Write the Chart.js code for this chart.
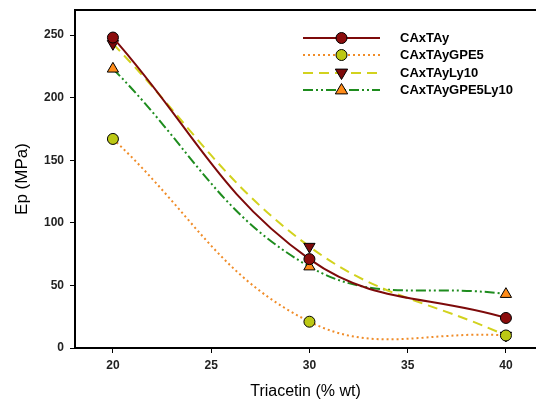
<!DOCTYPE html>
<html>
<head>
<meta charset="utf-8">
<script src="https://cdn.jsdelivr.net/npm/chart.js@4"></script>
<style>
  html, body { margin: 0; padding: 0; background: #fff; }
  #wrap { width: 536px; height: 407px; }
</style>
</head>
<body>
<div id="wrap"><canvas id="chart" width="536" height="407"></canvas></div>
<script>
// triacetin content (% wt)
const triacetin = [20, 30, 40];
const caxtay = [248, 71, 24];
const caxtayGPE5 = [167, 21, 10];
const caxtayLy10 = [243, 81, 10];
const caxtayGPE5Ly10 = [223, 65, 43];

const xTicks = [20, 25, 30, 35, 40];
const yTicks = [0, 50, 100, 150, 200, 250];

function pts(ys) {
    return triacetin.map((x, i) => ({ x: x, y: ys[i] }));
}

const tickFont = { family: 'Liberation Sans, Arial', size: 12, weight: 'bold' };

// legend drawn by hand: line with marker in the middle, like the original
const legendPlugin = {
    id: 'legendLines',
    afterDraw(chart) {
        const ctx = chart.ctx;
        const x0 = 303, x1 = 380, tx = 400;
        const rows = [38, 55, 73, 90];
        chart.data.datasets.forEach((ds, i) => {
            const y = rows[i];
            ctx.save();
            ctx.strokeStyle = ds.borderColor;
            ctx.lineWidth = ds.borderWidth;
            ctx.setLineDash(ds.borderDash || []);
            ctx.beginPath();
            ctx.moveTo(x0, y);
            ctx.lineTo(x1, y);
            ctx.stroke();
            ctx.setLineDash([]);
            drawMarker(ctx, ds, (x0 + x1) / 2, y);
            ctx.fillStyle = '#000';
            ctx.font = 'bold 13px Liberation Sans, Arial';
            ctx.textBaseline = 'middle';
            ctx.fillText(ds.label, tx, y);
            ctx.restore();
        });
    },
    beforeDatasetsDraw(chart) {
        // top frame line
        const ctx = chart.ctx;
        const a = chart.chartArea;
        ctx.save();
        ctx.strokeStyle = '#000';
        ctx.lineWidth = 2;
        ctx.beginPath();
        ctx.moveTo(a.left, a.top);
        ctx.lineTo(a.right, a.top);
        ctx.stroke();
        ctx.restore();
    }
};

function drawMarker(ctx, ds, x, y) {
    const r = ds.pointRadius;
    ctx.fillStyle = ds.pointBackgroundColor;
    ctx.strokeStyle = '#000';
    ctx.lineWidth = 1;
    ctx.beginPath();
    if (ds.pointStyle === 'circle') {
        ctx.arc(x, y, r, 0, Math.PI * 2);
    } else {
        const rot = ds.pointRotation === 180 ? -1 : 1;
        ctx.moveTo(x, y - r * rot);
        ctx.lineTo(x + r * 0.95, y + r * 0.6 * rot);
        ctx.lineTo(x - r * 0.95, y + r * 0.6 * rot);
        ctx.closePath();
    }
    ctx.fill();
    ctx.stroke();
}

const ctx = document.getElementById('chart').getContext('2d');
new Chart(ctx, {
    type: 'line',
    data: {
        datasets: [
            { label: 'CAxTAy', data: pts(caxtay), borderColor: '#7d0a0a', borderWidth: 2,
              pointStyle: 'circle', pointRadius: 5.5, pointBackgroundColor: '#8b0d0d' },
            { label: 'CAxTAyGPE5', data: pts(caxtayGPE5), borderColor: '#f08c28', borderWidth: 2,
              borderDash: [2, 3], pointStyle: 'circle', pointRadius: 5.5, pointBackgroundColor: '#bcc814' },
            { label: 'CAxTAyLy10', data: pts(caxtayLy10), borderColor: '#d2d21e', borderWidth: 2,
              borderDash: [10, 6], pointStyle: 'triangle', pointRotation: 180, pointRadius: 6.5,
              pointBackgroundColor: '#7d0a0a' },
            { label: 'CAxTAyGPE5Ly10', data: pts(caxtayGPE5Ly10), borderColor: '#1e8c1e', borderWidth: 2,
              borderDash: [10, 3, 2, 3, 2, 3], pointStyle: 'triangle', pointRadius: 6.5,
              pointBackgroundColor: '#ff8c1a' }
        ].map(ds => Object.assign(ds, { pointBorderColor: '#000', pointBorderWidth: 1 }))
    },
    options: {
        responsive: false,
        animation: false,
        elements: {
            line: { tension: 0.4, fill: false, capBezierPoints: false }
        },
        layout: { autoPadding: false, padding: { top: 10, right: 0, left: 12, bottom: 0 } },
        plugins: { legend: { display: false }, tooltip: { enabled: false } },
        scales: {
            x: {
                type: 'linear',
                min: 18.07,
                max: 41.53,
                afterBuildTicks: s => { s.ticks = xTicks.map(v => ({ value: v })); },
                afterFit: s => { s.height = 59; s.paddingLeft = 0; s.paddingRight = 0; },
                grid: { drawOnChartArea: false, drawTicks: true, tickLength: 5, color: '#000', lineWidth: 1 },
                border: { color: '#000', width: 2 },
                ticks: { color: '#222', font: tickFont, padding: 5, maxRotation: 0 },
                title: { display: true, text: 'Triacetin (% wt)', color: '#000',
                         font: { family: 'Liberation Sans, Arial', size: 16 }, padding: { top: 0, bottom: 6 } }
            },
            y: {
                min: 0,
                max: 270,
                afterBuildTicks: s => { s.ticks = yTicks.map(v => ({ value: v })); },
                afterFit: s => { s.width = 63; s.paddingTop = 0; s.paddingBottom = 0; },
                grid: { drawOnChartArea: false, drawTicks: true, tickLength: 5, color: '#000', lineWidth: 1 },
                border: { color: '#000', width: 2 },
                ticks: { color: '#222', font: tickFont, padding: 6 },
                title: { display: true, text: 'Ep (MPa)', color: '#000',
                         font: { family: 'Liberation Sans, Arial', size: 17 }, padding: 0 }
            }
        }
    },
    plugins: [legendPlugin]
});
</script>
</body>
</html>
